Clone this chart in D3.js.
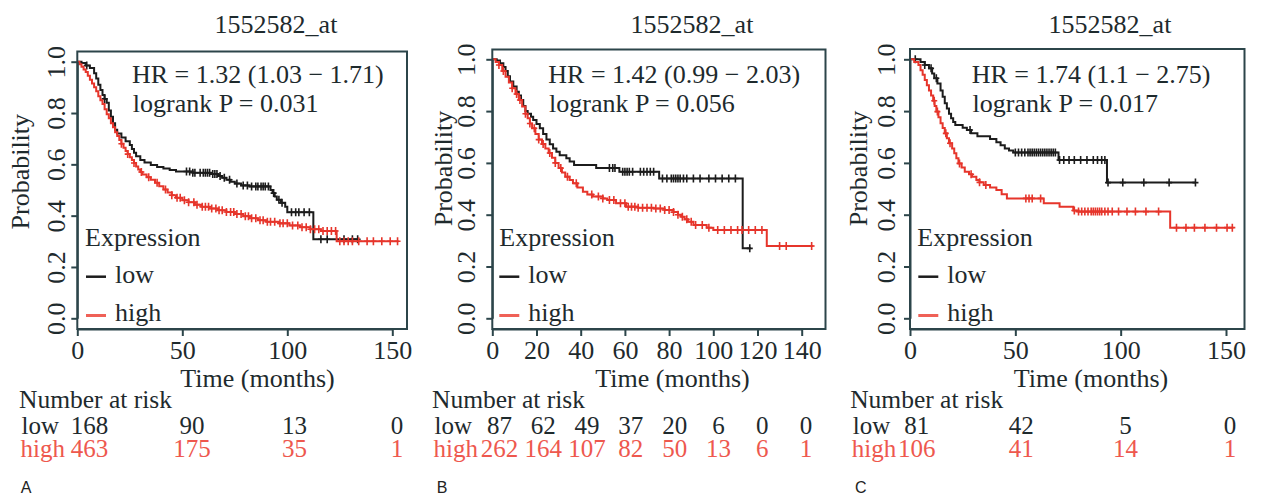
<!DOCTYPE html>
<html><head><meta charset="utf-8">
<script src="https://cdn.jsdelivr.net/npm/d3@7"></script>
<style>
body{margin:0;background:#fff;}
svg{display:block;}
</style></head><body>
<svg id="chart" width="1262" height="497"></svg>
<script>
// ---------------- DATA ----------------
const probeTitle = "1552582_at";
const panelLetters = ["A", "B", "C"];
const hrLabels = ["HR = 1.32 (1.03 \u2212 1.71)", "HR = 1.42 (0.99 \u2212 2.03)", "HR = 1.74 (1.1 \u2212 2.75)"];
const pLabels = ["logrank P = 0.031", "logrank P = 0.056", "logrank P = 0.017"];
const yTicks = [0, 0.2, 0.4, 0.6, 0.8, 1.0];
const xTicksA = [0, 50, 100, 150];
const xTicksB = [0, 20, 40, 60, 80, 100, 120, 140];
const xTicksC = [0, 50, 100, 150];
const riskLowA = [168, 90, 13, 0];
const riskHighA = [463, 175, 35, 1];
const riskLowB = [87, 62, 49, 37, 20, 6, 0, 0];
const riskHighB = [262, 164, 107, 82, 50, 13, 6, 1];
const riskLowC = [81, 42, 5, 0];
const riskHighC = [106, 41, 14, 1];

// Kaplan-Meier steps [months, survival]
const lowA = [[0,1],[2,0.995],[4,0.985],[6,0.975],[8,0.955],[9,0.935],[10,0.91],[11,0.89],[12,0.87],[13,0.855],[14,0.84],[15,0.81],[16,0.785],[17,0.76],[18,0.735],[19,0.72],[21,0.705],[23,0.69],[25,0.675],[26,0.66],[27,0.645],[28,0.632],[30,0.617],[32,0.607],[35,0.597],[38,0.59],[41,0.584],[44,0.578],[47,0.572],[55,0.567],[64,0.562],[67,0.555],[69,0.548],[71,0.54],[73,0.532],[75,0.525],[78,0.518],[82,0.514],[92,0.5],[93,0.488],[94,0.475],[95,0.462],[97,0.45],[99,0.435],[100,0.413],[112.4,0.308],[134,0.308]];
const highA = [[0,1],[1,0.99],[2,0.98],[3,0.97],[4,0.96],[5,0.945],[6,0.93],[7,0.915],[8,0.9],[9,0.885],[10,0.865],[11,0.85],[12,0.835],[13,0.815],[14,0.795],[15,0.78],[16,0.76],[17,0.745],[18,0.725],[19,0.71],[20,0.695],[21,0.68],[22,0.665],[23,0.652],[24,0.64],[25,0.628],[26,0.617],[27,0.605],[28,0.592],[29,0.58],[30,0.57],[31,0.56],[33,0.55],[35,0.54],[37,0.528],[39,0.515],[41,0.502],[43,0.49],[45,0.48],[47,0.47],[50,0.46],[53,0.452],[56,0.443],[59,0.435],[63,0.428],[67,0.421],[71,0.414],[75,0.406],[79,0.398],[82,0.39],[86,0.382],[90,0.376],[96,0.37],[101,0.362],[106,0.355],[111,0.347],[116,0.34],[123.5,0.3],[153,0.3]];
const lowB = [[0,1],[2,0.995],[3.5,0.985],[5,0.97],[6,0.955],[7,0.935],[8,0.914],[9.5,0.895],[11,0.875],[12,0.86],[13,0.843],[14,0.82],[15,0.8],[16,0.79],[17.5,0.778],[18.5,0.766],[20,0.75],[21.5,0.734],[23,0.712],[24.5,0.69],[26,0.672],[27.5,0.656],[29,0.643],[30.5,0.63],[33.5,0.618],[35,0.605],[37,0.592],[47,0.58],[57.5,0.566],[75.5,0.54],[113.3,0.27],[117,0.27]];
const highB = [[0,1],[1.5,0.99],[3,0.978],[4.5,0.955],[6,0.933],[7.5,0.91],[9,0.888],[10.5,0.866],[12,0.843],[13.5,0.818],[15,0.79],[16,0.772],[17,0.752],[18,0.734],[19.5,0.712],[21,0.69],[22.5,0.673],[24,0.656],[25.5,0.638],[27,0.62],[28.5,0.6],[30,0.58],[31.5,0.563],[33,0.547],[35,0.534],[36.5,0.521],[38.5,0.505],[41,0.489],[43,0.478],[45.5,0.47],[50,0.463],[52,0.457],[56,0.444],[60.5,0.431],[66,0.427],[73,0.424],[78,0.418],[82,0.41],[84,0.4],[85.5,0.392],[87,0.382],[88.5,0.373],[91,0.36],[97,0.35],[100,0.341],[124.2,0.279],[145.3,0.279]];
const lowC = [[0,1],[5,0.99],[7,0.978],[9,0.965],[10.5,0.945],[11.5,0.927],[13,0.907],[14.5,0.88],[15.5,0.855],[16.5,0.83],[17.5,0.81],[18.5,0.79],[19.5,0.772],[20.5,0.758],[21.5,0.746],[25,0.736],[27,0.727],[29,0.714],[32,0.703],[38,0.692],[41,0.68],[43,0.668],[45,0.656],[47,0.648],[49,0.64],[70.5,0.611],[93.5,0.524],[135.5,0.524]];
const highC = [[0,1],[2,0.99],[4,0.978],[5,0.958],[6,0.94],[7,0.92],[8,0.9],[9,0.88],[10,0.86],[11,0.84],[11.7,0.82],[12.5,0.798],[13.5,0.776],[14.5,0.753],[15.5,0.735],[16.5,0.714],[17.5,0.695],[18.5,0.676],[20,0.656],[21,0.637],[22,0.618],[23,0.598],[24.5,0.582],[26,0.566],[28,0.556],[29.5,0.547],[31.5,0.534],[33,0.525],[35,0.515],[38,0.505],[41,0.495],[43.5,0.479],[46,0.463],[63.5,0.444],[71,0.431],[77.5,0.416],[80,0.412],[123.5,0.35],[153.5,0.35]];

// censoring times (months)
const censorLowA = [4.5,13,52,53.5,55,56,58.5,60,61,62,63,64.5,65.5,66.5,68,70,72.5,76,79,81,83,85,86,87.5,88.5,89.5,91,93.5,96,97.5,102,104,105.5,108,110.5,116,119,127,131,133.5];
const censorHighA = [21,24,27,30.5,34,38,42,45,47.5,49,51,53,55.5,57,59.5,61,62.5,64,66,67.5,69,71,73,74.5,76,78,80,81.5,83,85,87,88.5,90.5,92,94,96.5,98,100,102.5,105,107,109,111,113,115,117,119,121,123,125,127,129,131,134,138,141,145,149,152.5];
const censorLowB = [53,54.5,55.5,59,60,61,62,63.5,67,68.5,70,71.5,73,77,79,81,82,83,84,85,86.5,88,91,94,98,101,104,107,110,116.5];
const censorHighB = [3,5,9,11,12.5,15,17,19,21,23,26,28.5,31,34,38,45,48,50,53,55,58,60,61.5,63,64.5,66,68,70,72,74,76,78,80,82,84,86,88,90,92,95,98,102,105,108,111,113,116,119,122,130,133,144.5];
const censorLowC = [2.5,7,10,12.5,28.5,50,51.5,53,54.5,56,57,58,59,60,61,62,63,64,65,66,67,68,69,71,73,75.5,78,81,84,87,89,91,92.5,94,101,111,123,135.5];
const censorHighC = [11.5,13,17,19,23.5,29,33,36,55,56.5,58,62,78,80,81.5,83,84.5,86,87,88,89,90,91,92.5,94,96,99,103,107,112,118,126.5,131,135,140,145.5,150.5,153];

// ---------------- LAYOUT ----------------
const panels = [
  {letter: panelLetters[0], hr: hrLabels[0], p: pLabels[0], xTicks: xTicksA, low: lowA, high: highA, cLow: censorLowA, cHigh: censorHighA, rLow: riskLowA, rHigh: riskHighA,
   xRange: [77.3, 392.3], yRange: [318.3, 61.7], boxTop: 51.5, boxRight: 407, boxBottom: 329,
   titleX: 276, hrX: 132, ylabX: 29, ylabY: 171.7, ytickOff: 12.3, legX: 85, dash: [86, 106], legTextX: 115,
   xlabX: 257.5, riskLabX: 20.5, riskRange: [89.5, 397], letterX: 20.7},
  {letter: panelLetters[1], hr: hrLabels[1], p: pLabels[1], xTicks: xTicksB, low: lowB, high: highB, cLow: censorLowB, cHigh: censorHighB, rLow: riskLowB, rHigh: riskHighB,
   xRange: [492.3, 801.7], yRange: [318.3, 59.3], boxTop: 49.5, boxRight: 825.5, boxBottom: 329,
   titleX: 692, hrX: 548.3, ylabX: 452, ylabY: 168.5, ytickOff: 17.5, legX: 499.3, dash: [499.3, 519.3], legTextX: 528.3,
   xlabX: 672.5, riskLabX: 433.5, riskRange: [499.5, 806], letterX: 436.7},
  {letter: panelLetters[2], hr: hrLabels[2], p: pLabels[2], xTicks: xTicksC, low: lowC, high: highC, cLow: censorLowC, cHigh: censorHighC, rLow: riskLowC, rHigh: riskHighC,
   xRange: [910, 1226], yRange: [318.3, 59.3], boxTop: 49, boxRight: 1244.5, boxBottom: 329,
   titleX: 1110, hrX: 971.7, ylabX: 867, ylabY: 168.5, ytickOff: 15, legX: 917.3, dash: [918.3, 938.3], legTextX: 947.3,
   xlabX: 1091, riskLabX: 851.7, riskRange: [916.7, 1230], letterX: 855}
];

const SERIF = "'Liberation Serif','Times New Roman',Times,serif";
const SANS = "'Liberation Sans',Arial,Helvetica,sans-serif";
const INK = "#1e2a2d", BOX = "#2c454a", BLACK = "#1c1c1c", RED = "#e6352b", RED_LIGHT = "#ef6157", RED_TEXT = "#ee584e";
const FS = 26, FS_RISK = 25;

const svg = d3.select("#chart");
svg.append("rect").attr("width", 1262).attr("height", 497).attr("fill", "#fff");

function survAt(steps, t) {
  let s = steps[0][1];
  for (const d of steps) { if (d[0] <= t) s = d[1]; else break; }
  return s;
}

function txt(g, x, y, s, opts = {}) {
  return g.append("text").attr("x", x).attr("y", y).text(s)
    .attr("font-family", opts.family || SERIF).attr("font-size", opts.size || FS)
    .attr("fill", opts.fill || INK).attr("text-anchor", opts.anchor || "start");
}

panels.forEach(p => {
  const xMax = p.xTicks[p.xTicks.length - 1];
  const x = d3.scaleLinear().domain([0, xMax]).range(p.xRange);
  const y = d3.scaleLinear().domain([0, 1]).range(p.yRange);
  const riskX = d3.scaleLinear().domain([0, xMax]).range(p.riskRange);
  const g = svg.append("g");
  const x0 = x(0);

  // curves
  const line = d3.line().x(d => x(d[0])).y(d => y(d[1])).curve(d3.curveStepAfter);
  const series = [
    {steps: p.low, cens: p.cLow, color: BLACK},
    {steps: p.high, cens: p.cHigh, color: RED}
  ];
  series.forEach(s => {
    g.append("path").datum(s.steps).attr("d", line).attr("fill", "none")
      .attr("stroke", s.color).attr("stroke-width", 2);
    g.append("g").selectAll("path").data(s.cens).join("path")
      .attr("d", t => {
        const cx = x(t), cy = y(survAt(s.steps, t));
        return `M${cx - 3},${cy}H${cx + 3}M${cx},${cy - 4}V${cy + 4}`;
      })
      .attr("stroke", s.color).attr("stroke-width", 1.6).attr("fill", "none");
  });

  // box
  g.append("rect").attr("x", x0).attr("y", p.boxTop)
    .attr("width", p.boxRight - x0).attr("height", p.boxBottom - p.boxTop)
    .attr("fill", "none").attr("stroke", BOX).attr("stroke-width", 2);

  // x axis
  const xa = g.append("g").attr("transform", `translate(0,${p.boxBottom})`)
    .call(d3.axisBottom(x).tickValues(p.xTicks).tickFormat(d3.format("d")).tickSize(7).tickSizeOuter(0));
  xa.attr("font-family", SERIF).attr("font-size", FS);
  xa.select(".domain").attr("stroke", BOX).attr("stroke-width", 2);
  xa.selectAll(".tick line").attr("stroke", BOX).attr("stroke-width", 2);
  xa.selectAll(".tick text").attr("y", 30).attr("dy", null).attr("fill", INK);

  // y axis
  const ya = g.append("g").attr("transform", `translate(${x0},0)`)
    .call(d3.axisLeft(y).tickValues(yTicks).tickFormat(d3.format(".1f")).tickSize(6).tickSizeOuter(0));
  ya.attr("font-family", SERIF).attr("font-size", FS);
  ya.select(".domain").attr("stroke", BOX).attr("stroke-width", 2);
  ya.selectAll(".tick line").attr("stroke", BOX).attr("stroke-width", 2);
  ya.selectAll(".tick text").attr("x", null).attr("dy", null)
    .attr("transform", `translate(${-p.ytickOff},0) rotate(-90)`)
    .attr("text-anchor", "middle").attr("fill", INK);

  // labels
  txt(g, p.titleX, 32.5, probeTitle, {anchor: "middle"});
  txt(g, p.hrX, 83, p.hr);
  txt(g, p.hrX + 0.8, 111.5, p.p);
  g.append("text").attr("transform", `translate(${p.ylabX},${p.ylabY}) rotate(-90)`)
    .attr("text-anchor", "middle").attr("font-family", SERIF).attr("font-size", FS)
    .attr("fill", INK).text("Probability");
  txt(g, p.xlabX, 387, "Time (months)", {anchor: "middle"});

  // legend
  txt(g, p.legX, 245.5, "Expression");
  g.append("line").attr("x1", p.dash[0]).attr("x2", p.dash[1]).attr("y1", 276.7).attr("y2", 276.7)
    .attr("stroke", BLACK).attr("stroke-width", 2.5);
  txt(g, p.legTextX, 282.5, "low");
  g.append("line").attr("x1", p.dash[0]).attr("x2", p.dash[1]).attr("y1", 315.5).attr("y2", 315.5)
    .attr("stroke", RED_LIGHT).attr("stroke-width", 3);
  txt(g, p.legTextX, 321, "high");

  // risk table
  txt(g, p.riskLabX - 1.5, 407.5, "Number at risk", {size: FS_RISK + 0.5});
  txt(g, p.riskLabX + 1, 433.5, "low", {size: FS_RISK});
  txt(g, p.riskLabX, 456.5, "high", {fill: RED_TEXT, size: FS_RISK});
  g.append("g").selectAll("text").data(p.rLow).join("text")
    .attr("x", (d, i) => riskX(p.xTicks[i])).attr("y", 433.5).attr("text-anchor", "middle")
    .attr("font-family", SERIF).attr("font-size", FS_RISK).attr("fill", INK).text(d => d);
  g.append("g").selectAll("text").data(p.rHigh).join("text")
    .attr("x", (d, i) => riskX(p.xTicks[i])).attr("y", 456.5).attr("text-anchor", "middle")
    .attr("font-family", SERIF).attr("font-size", FS_RISK).attr("fill", RED_TEXT).text(d => d);

  // panel letter
  txt(g, p.letterX, 493, p.letter, {family: SANS, size: 16, fill: "#222"});
});
</script>
</body></html>
